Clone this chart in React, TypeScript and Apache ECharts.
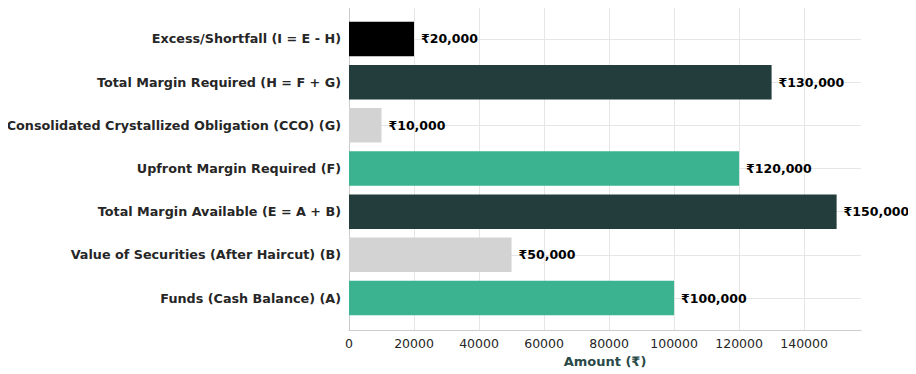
import React, { useEffect, useRef } from "react";
import * as echarts from "echarts";

// Bottom-to-top order (as drawn)
const categories = [
  "Funds (Cash Balance) (A)",
  "Value of Securities (After Haircut) (B)",
  "Total Margin Available (E = A + B)",
  "Upfront Margin Required (F)",
  "Consolidated Crystallized Obligation (CCO) (G)",
  "Total Margin Required (H = F + G)",
  "Excess/Shortfall (I = E - H)",
];
const values = [100000, 50000, 150000, 120000, 10000, 130000, 20000];
const barColors = ["#3bb391", "#d3d3d3", "#233d3d", "#3bb391", "#d3d3d3", "#233d3d", "#000000"];
const xTicks = { min: 0, max: 157500, interval: 20000 };
const xTitle = "Amount (₹)";

const FONT = "DejaVu Sans";

export default function App() {
  const ref = useRef<HTMLDivElement>(null);
  useEffect(() => {
    if (!ref.current) return;
    const chart = echarts.init(ref.current, undefined, { renderer: "svg" });
    const fmt = (v: number) => "₹" + v.toLocaleString("en-US");
    chart.setOption({
      animation: false,
      grid: [
        { left: 349, right: 55, top: 17.4, bottom: 54.4, containLabel: false },
        { left: 349, right: 55, top: 7, bottom: 44, containLabel: false },
      ],
      xAxis: [
        {
          gridIndex: 0,
          type: "value",
          min: xTicks.min,
          max: xTicks.max,
          interval: xTicks.interval,
          show: false,
          splitLine: { show: false },
        },
        {
          gridIndex: 1,
          type: "value",
          min: xTicks.min,
          max: xTicks.max,
          interval: xTicks.interval,
          axisLine: { show: true, lineStyle: { color: "#cccccc", width: 1 } },
          axisTick: { show: false },
          axisLabel: {
            color: "#262626",
            fontFamily: FONT,
            fontSize: 12.5,
            margin: 7,
            showMaxLabel: false,
            formatter: (v: number) => String(v),
          },
          splitLine: {
            show: true,
            showMaxLine: false,
            lineStyle: { color: "#e6e6e6", width: 1 },
          },
          name: xTitle,
          nameLocation: "middle",
          nameGap: 23,
          nameTextStyle: {
            color: "#2a4a48",
            fontFamily: FONT,
            fontSize: 13,
            fontWeight: "bold",
          },
        },
      ],
      yAxis: [
        {
          gridIndex: 0,
          type: "category",
          data: categories,
          axisLine: { show: false },
          axisTick: { show: false },
          splitLine: { show: false },
          axisLabel: {
            color: "#262626",
            fontFamily: FONT,
            fontSize: 12.75,
            fontWeight: "bold",
            margin: 8,
          },
        },
        {
          gridIndex: 1,
          type: "value",
          min: 0,
          max: 1,
          axisLine: { show: true, lineStyle: { color: "#cccccc", width: 1 } },
          axisTick: { show: false },
          axisLabel: { show: false },
          splitLine: { show: false },
        },
      ],
      series: [
        {
          type: "bar",
          xAxisIndex: 0,
          yAxisIndex: 0,
          barWidth: "80%",
          z: 3,
          data: values.map((v, i) => ({ value: v, itemStyle: { color: barColors[i] } })),
          label: {
            show: true,
            position: "right",
            distance: 7,
            formatter: (p: any) => fmt(p.value),
            color: "#000000",
            fontFamily: FONT,
            fontSize: 12.5,
            fontWeight: "bold",
          },
          markLine: {
            silent: true,
            symbol: "none",
            z: 1,
            label: { show: false },
            lineStyle: { color: "#e6e6e6", width: 1, type: "solid" },
            data: categories.map((c) => ({ yAxis: c })),
          },
        },
      ],
    });
    return () => chart.dispose();
  }, []);
  return <div ref={ref} style={{ width: 916, height: 374, marginLeft: -8, marginTop: -8 }} />;
}
